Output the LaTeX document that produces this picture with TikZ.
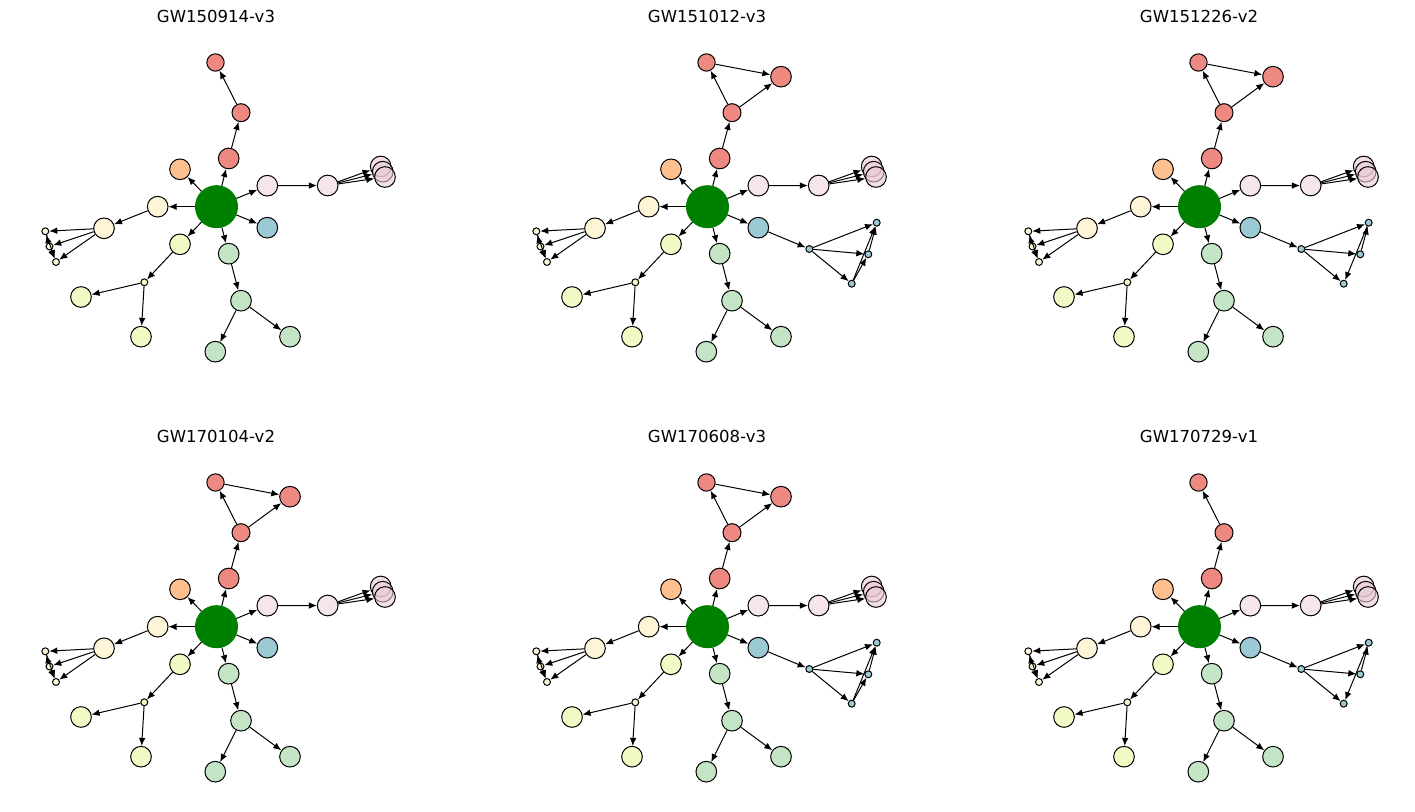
\documentclass[tikz,border=0pt]{standalone}
\usepackage{fontspec}
\setmainfont{DejaVu Sans}
\usetikzlibrary{arrows.meta}
\definecolor{cred}{HTML}{EE8982}
\definecolor{corange}{HTML}{FDC08E}
\definecolor{cpink}{HTML}{F6E6EB}
\definecolor{ccluster}{HTML}{EBCAD8}
\definecolor{ccream}{HTML}{FEF4D8}
\definecolor{cyel}{HTML}{F2F9C4}
\definecolor{cgrn}{HTML}{C3E5C6}
\definecolor{cblue}{HTML}{9BCAD4}
\definecolor{ccenter}{HTML}{008000}
\tikzset{
  nd/.style={circle,draw=black,line width=0.75pt,inner sep=0pt,minimum size=15.5pt},
  sm/.style={nd,minimum size=5.2pt},
  hub/.style={nd,fill=ccenter,draw=ccenter,minimum size=31.5pt},
  clu/.style={nd,fill=ccluster,fill opacity=0.6},
  ed/.style={line width=0.75pt,-{Latex[length=6pt,width=5pt]}},
  ttl/.style={font=\fontsize{12.4}{15}\selectfont,anchor=base}
}
\newcommand\gwpanel[6]{%
\begin{scope}[shift={(#2,#3)}]
\node[ttl] (#1t) at (216,23) {#4};
\node[hub] (#1c) at (216.5,206.7) {};
\node[nd,fill=corange] (#1o) at (180,169.3) {};
\node[nd,fill=cred] (#1r1) at (228.7,158.5) {};
\node[nd,fill=cred,minimum size=13.5pt] (#1r2) at (241,112.7) {};
\node[nd,fill=cred,minimum size=13pt] (#1r3) at (215.5,62.5) {};
\node[nd,fill=cpink] (#1p1) at (267.3,185.7) {};
\node[nd,fill=cpink] (#1p2) at (327.7,185.5) {};
\node[clu] (#1q1) at (380.7,166.5) {};
\node[clu] (#1q2) at (382.7,171.7) {};
\node[clu] (#1q3) at (385,177) {};
\node[nd,fill=cblue] (#1b) at (267.3,227.7) {};
\node[nd,fill=ccream] (#1k1) at (157.7,206.7) {};
\node[nd,fill=ccream] (#1k2) at (104,228.3) {};
\node[sm,fill=ccream] (#1s1) at (45.3,231.3) {};
\node[sm,fill=ccream] (#1s2) at (49.5,246.5) {};
\node[sm,fill=ccream] (#1s3) at (56,262) {};
\node[nd,fill=cyel] (#1y1) at (180,244.3) {};
\node[sm,fill=cyel] (#1ys) at (144.3,282.3) {};
\node[nd,fill=cyel] (#1y2) at (81,297) {};
\node[nd,fill=cyel] (#1y3) at (141,336.7) {};
\node[nd,fill=cgrn] (#1g1) at (228.7,253.7) {};
\node[nd,fill=cgrn] (#1g2) at (241,300.7) {};
\node[nd,fill=cgrn] (#1g3) at (215.3,351.7) {};
\node[nd,fill=cgrn] (#1g4) at (290,336.7) {};
\draw[ed] (#1c) -- (#1o);
\draw[ed] (#1c) -- (#1r1);
\draw[ed] (#1r1) -- (#1r2);
\draw[ed] (#1r2) -- (#1r3);
\draw[ed] (#1c) -- (#1p1);
\draw[ed] (#1p1) -- (#1p2);
\draw[ed] (#1p2) -- (#1q1);
\draw[ed] (#1p2) -- (#1q2);
\draw[ed] (#1p2) -- (#1q3);
\draw[ed] (#1c) -- (#1b);
\draw[ed] (#1c) -- (#1k1);
\draw[ed] (#1k1) -- (#1k2);
\draw[ed] (#1k2) -- (#1s1);
\draw[ed] (#1k2) -- (#1s2);
\draw[ed] (#1k2) -- (#1s3);
\draw[ed] (#1s2) -- (#1s1);
\draw[ed] (#1s1) -- (#1s3);
\draw[ed] (#1s2) -- (#1s3);
\draw[ed] (#1c) -- (#1y1);
\draw[ed] (#1y1) -- (#1ys);
\draw[ed] (#1ys) -- (#1y2);
\draw[ed] (#1ys) -- (#1y3);
\draw[ed] (#1c) -- (#1g1);
\draw[ed] (#1g1) -- (#1g2);
\draw[ed] (#1g2) -- (#1g3);
\draw[ed] (#1g2) -- (#1g4);
\ifnum#5=1
  \node[nd,fill=cred] (#1r4) at (290,76.7) {};
  \draw[ed] (#1r2) -- (#1r4);
  \draw[ed] (#1r3) -- (#1r4);
\fi
\ifnum#6>0
  \node[sm,fill=cblue] (#1h) at (318.3,249) {};
  \node[sm,fill=cblue] (#1bT) at (385.7,222.7) {};
  \node[sm,fill=cblue] (#1bM) at (377.3,254.3) {};
  \node[sm,fill=cblue] (#1bB) at (360.7,283.7) {};
  \draw[ed] (#1b) -- (#1h);
  \draw[ed] (#1h) -- (#1bT);
  \draw[ed] (#1h) -- (#1bM);
  \draw[ed] (#1h) -- (#1bB);
  \draw[ed] (#1bM) -- (#1bT);
\fi
\ifnum#6=1
  \draw[ed] (#1bB) -- (#1bM);
  \draw[ed] (#1bB) -- (#1bT);
\fi
\ifnum#6=2
  \draw[ed] (#1bT) -- (#1bB);
\fi
\end{scope}}
\begin{document}
\begin{tikzpicture}[x=0.75pt,y=-0.75pt]
\useasboundingbox (0,0) rectangle (1415,812);
\gwpanel{a}{0}{0}{GW150914-v3}{0}{0}
\gwpanel{b}{491}{0}{GW151012-v3}{1}{1}
\gwpanel{c}{983}{0}{GW151226-v2}{1}{2}
\gwpanel{d}{0}{420}{GW170104-v2}{1}{0}
\gwpanel{e}{491}{420}{GW170608-v3}{1}{1}
\gwpanel{f}{983}{420}{GW170729-v1}{0}{2}
\end{tikzpicture}
\end{document}
